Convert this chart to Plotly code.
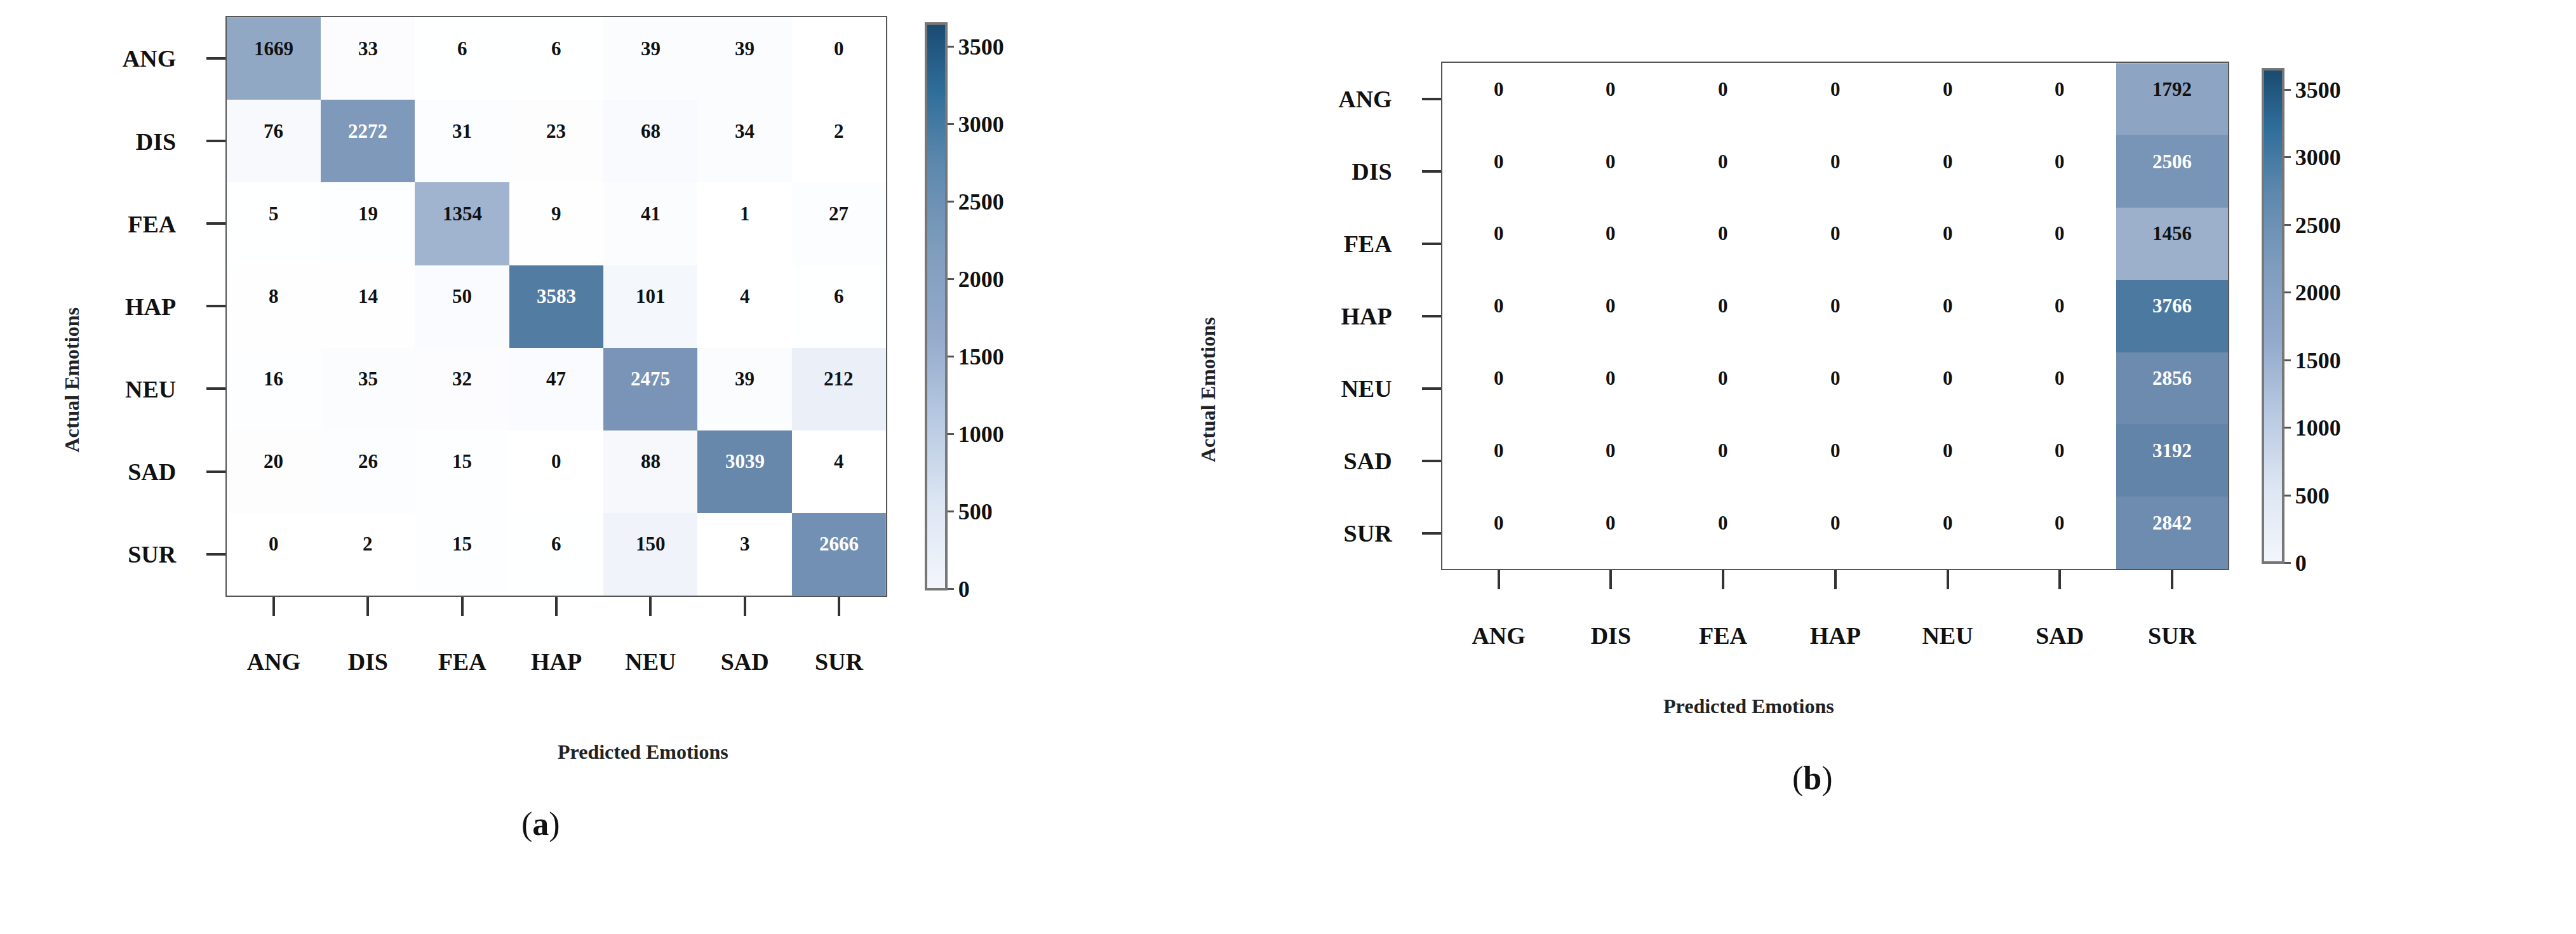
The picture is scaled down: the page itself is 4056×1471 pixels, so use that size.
import plotly.graph_objects as go

labels = ["ANG", "DIS", "FEA", "HAP", "NEU", "SAD", "SUR"]
cm_a = [
    [1669, 33, 6, 6, 39, 39, 0],
    [76, 2272, 31, 23, 68, 34, 2],
    [5, 19, 1354, 9, 41, 1, 27],
    [8, 14, 50, 3583, 101, 4, 6],
    [16, 35, 32, 47, 2475, 39, 212],
    [20, 26, 15, 0, 88, 3039, 4],
    [0, 2, 15, 6, 150, 3, 2666],
]
cm_b = [
    [0, 0, 0, 0, 0, 0, 1792],
    [0, 0, 0, 0, 0, 0, 2506],
    [0, 0, 0, 0, 0, 0, 1456],
    [0, 0, 0, 0, 0, 0, 3766],
    [0, 0, 0, 0, 0, 0, 2856],
    [0, 0, 0, 0, 0, 0, 3192],
    [0, 0, 0, 0, 0, 0, 2842],
]
cbar_ticks = [0, 500, 1000, 1500, 2000, 2500, 3000, 3500]

# colours used for the cells
cell_scale = [[0, "#ffffff"], [0.01, "#fbfcfe"], [0.03, "#f3f6fb"], [0.06, "#e8eef7"],
              [0.12, "#dfe7f2"], [0.36, "#a0b3ce"], [0.45, "#8fa6c4"],
              [0.62, "#7d97b8"], [0.7, "#7290b3"], [0.8, "#6787ab"], [1, "#4a789e"]]
# colours shown on the colour bar
bar_scale = [[0, "#f3f6fc"], [0.15, "#dde6f3"], [0.3, "#b8c9e2"], [0.45, "#93aacb"],
             [0.6, "#7f9dbd"], [0.75, "#5e88ae"], [0.88, "#2f6e9a"], [1, "#1a4a70"]]
FONT = "Liberation Serif"

fig = go.Figure()
panels = [
    (cm_a, "x", "y", [0.086, 0.342], [0.368, 0.987], 0.355, "a", 0.2, 0.102, 0.187, 0.021),
    (cm_b, "x2", "y2", [0.558, 0.863], [0.396, 0.938], 0.874, "b", 0.71, 0.151, 0.236, 0.467),
]
for i, (cm, xa, ya, dx, dy, cbx, lab, labx, laby, xty, yty) in enumerate(panels):
    fig.add_trace(go.Heatmap(
        z=cm, x=labels, y=labels, xaxis=xa, yaxis=ya, colorscale=cell_scale,
        zmin=0, zmax=3800, showscale=False))
    fig.add_trace(go.Scatter(
        x=[labels[0]], y=[labels[0]], xaxis=xa, yaxis=ya, mode="markers",
        hoverinfo="skip",
        marker=dict(size=0.1, opacity=0, color=[0], cmin=0, cmax=3650,
                    colorscale=bar_scale, showscale=True,
                    colorbar=dict(x=cbx, xanchor="left", y=dy[0], yanchor="bottom",
                                  len=dy[1] - dy[0], lenmode="fraction", thickness=32,
                                  outlinecolor="#777", outlinewidth=4,
                                  tickvals=cbar_ticks, ticks="outside", ticklen=10,
                                  tickcolor="#555", tickwidth=3,
                                  tickfont=dict(family=FONT, size=36, color="#111",
                                                weight="bold")))))
    for r, row in enumerate(cm):
        for c, v in enumerate(row):
            fig.add_annotation(x=labels[c], y=labels[r], xref=xa, yref=ya,
                               text=f"<b>{v}</b>", showarrow=False, yshift=16,
                               font=dict(family=FONT, size=31,
                                         color="white" if v > 2000 else "#111"))
    axn = "" if i == 0 else "2"
    common = dict(showgrid=False, zeroline=False, ticks="outside", ticklen=30,
                  tickwidth=4, tickcolor="#333", showline=True, linecolor="#555",
                  linewidth=2, mirror=True, ticklabelstandoff=40,
                  tickfont=dict(family=FONT, size=38, color="#111", weight="bold"))
    fig.update_layout(**{
        "xaxis" + axn: dict(domain=dx, anchor="y" + axn, **common),
        "yaxis" + axn: dict(domain=dy, anchor="x" + axn, autorange="reversed", **common),
    })
    fig.add_annotation(x=(dx[0] + dx[1]) / 2, y=xty, xref="paper", yref="paper",
                       text="<b>Predicted Emotions</b>", showarrow=False,
                       font=dict(family=FONT, size=32, color="#222"))
    fig.add_annotation(x=yty, y=(dy[0] + dy[1]) / 2, xref="paper", yref="paper",
                       text="<b>Actual Emotions</b>", textangle=-90, showarrow=False,
                       font=dict(family=FONT, size=32, color="#222"))
    fig.add_annotation(x=labx, y=laby, xref="paper", yref="paper",
                       text="(<b>" + lab + "</b>)", showarrow=False,
                       font=dict(family=FONT, size=52, color="#111"))

fig.update_layout(width=4056, height=1471, paper_bgcolor="white", plot_bgcolor="white",
                  margin=dict(l=0, r=0, t=0, b=0), showlegend=False)
fig.write_html("out.html")
